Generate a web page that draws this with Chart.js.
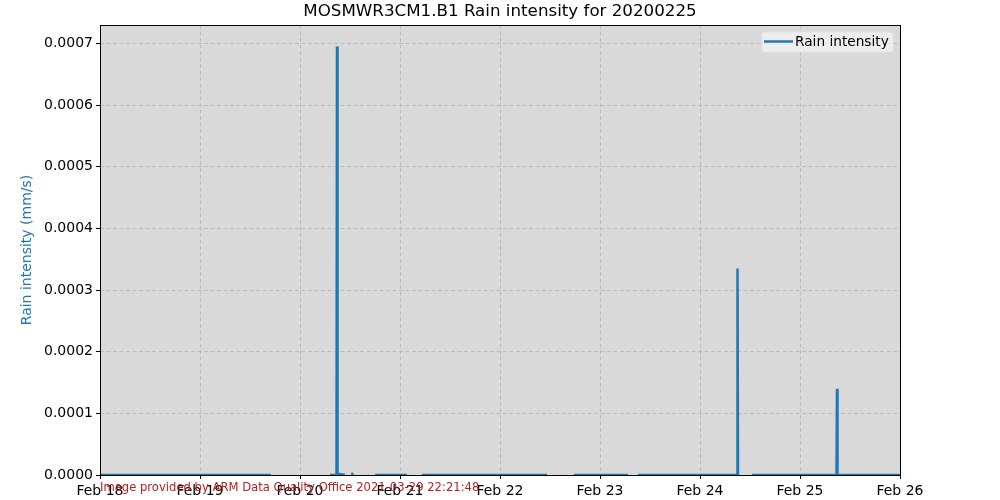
<!DOCTYPE html>
<html>
<head>
<meta charset="utf-8">
<script src="https://cdn.jsdelivr.net/npm/chart.js@4"></script>
<style>
  html, body { margin: 0; padding: 0; background: #fff; }
  #wrap { width: 1000px; height: 500px; }
</style>
</head>
<body>
<div id="wrap"><canvas id="myChart" width="1000" height="500"></canvas></div>
<script>
// days since Feb 18 00:00, null = no data
const dayOffsets = [0, 0.8, 1.71, 2.0, 2.30, 2.365, 2.37, 2.375, 2.38, 2.45, 2.48, 2.515, 2.52, 2.525, 2.6,
  2.75, 3.07, 3.15, 3.22, 4.47, 4.6, 4.74, 5.28, 5.33, 5.38, 6.37, 6.375, 6.38, 6.45,
  6.52, 7.365, 7.37, 7.375, 8.0];
const rainValues = [0, 0, 0, null, 0, 0, 0.000695, 0.000003, 0.000002, 0, null, 0.0000015, 0.000002, 0.000001, null,
  0, 0, null, 0, 0, null, 0, 0, null, 0, 0, 0.000335, 0, null,
  0, 0, 0.00014, 0, 0];
const xTickLabels = ['Feb 18', 'Feb 19', 'Feb 20', 'Feb 21', 'Feb 22', 'Feb 23', 'Feb 24', 'Feb 25', 'Feb 26'];
const yTicks = [0, 0.0001, 0.0002, 0.0003, 0.0004, 0.0005, 0.0006, 0.0007];

const FONT = 'DejaVu Sans';

const decor = {
    id: 'decor',
    beforeDraw(chart) {
        const { ctx, chartArea: a } = chart;
        ctx.save();
        ctx.fillStyle = '#d9d9d9';
        ctx.fillRect(a.left, a.top, a.right - a.left, a.bottom - a.top);
        ctx.restore();
    },
    afterDraw(chart) {
        const { ctx, chartArea: a } = chart;
        ctx.save();
        // frame
        ctx.strokeStyle = '#000';
        ctx.lineWidth = 1;
        ctx.strokeRect(a.left + 0.5, a.top + 0.5, a.right - a.left, a.bottom - a.top);
        // title
        ctx.fillStyle = '#000';
        ctx.font = '16.7px "' + FONT + '"';
        ctx.textAlign = 'center';
        ctx.textBaseline = 'middle';
        ctx.fillText('MOSMWR3CM1.B1 Rain intensity for 20200225', 500, 12);
        // legend
        ctx.fillStyle = 'rgba(240,240,240,0.85)';
        ctx.strokeStyle = '#e4e4e4';
        ctx.beginPath();
        ctx.roundRect(762, 32, 131, 20, 3);
        ctx.fill();
        ctx.stroke();
        ctx.strokeStyle = '#1f77b4';
        ctx.lineWidth = 2.5;
        ctx.beginPath();
        ctx.moveTo(764, 41.5);
        ctx.lineTo(793, 41.5);
        ctx.stroke();
        ctx.fillStyle = '#000';
        ctx.font = '13.7px "' + FONT + '"';
        ctx.textAlign = 'left';
        ctx.fillText('Rain intensity', 795, 42);
        // footer
        ctx.fillStyle = '#b22222';
        ctx.font = '11.6px "' + FONT + '"';
        ctx.fillText('Image provided by ARM Data Quality Office 2021-03-29 22:21:48', 100, 488);
        ctx.restore();
    }
};

new Chart(document.getElementById('myChart'), {
    type: 'line',
    data: {
        labels: dayOffsets,
        datasets: [{
            label: 'Rain intensity',
            data: dayOffsets.map((d, i) => ({ x: d, y: rainValues[i] })),
            borderColor: '#1f77b4',
            borderWidth: 2.5,
            pointRadius: 0,
            tension: 0,
            spanGaps: false
        }]
    },
    options: {
        responsive: false,
        animation: false,
        layout: { padding: { top: 25, right: 100, left: 0, bottom: 0 } },
        plugins: { legend: { display: false }, tooltip: { enabled: false } },
        scales: {
            x: {
                type: 'linear',
                min: 0,
                max: 8,
                afterBuildTicks: s => { s.ticks = xTickLabels.map((_, i) => ({ value: i })); },
                afterFit: s => { s.height = 25; },
                ticks: {
                    callback: (v, i) => xTickLabels[i],
                    color: '#000',
                    font: { family: FONT, size: 14 },
                    maxRotation: 0,
                    padding: 4
                },
                grid: { color: '#bcbcbc', tickColor: '#000', tickLength: 4 },
                border: { display: false, dash: [4, 2.5] }
            },
            y: {
                min: 0,
                max: 0.00073,
                afterBuildTicks: s => { s.ticks = yTicks.map(v => ({ value: v })); },
                afterFit: s => { s.width = 100; },
                ticks: {
                    callback: v => v.toFixed(4),
                    color: '#000',
                    font: { family: FONT, size: 14 },
                    padding: 3
                },
                title: {
                    display: true,
                    text: 'Rain intensity (mm/s)',
                    color: '#1f77b4',
                    font: { family: FONT, size: 14 },
                    padding: { top: 19, bottom: 0 }
                },
                grid: { color: '#bcbcbc', tickColor: '#000', tickLength: 4 },
                border: { display: false, dash: [4, 2.5] }
            }
        }
    },
    plugins: [decor]
});
</script>
</body>
</html>
